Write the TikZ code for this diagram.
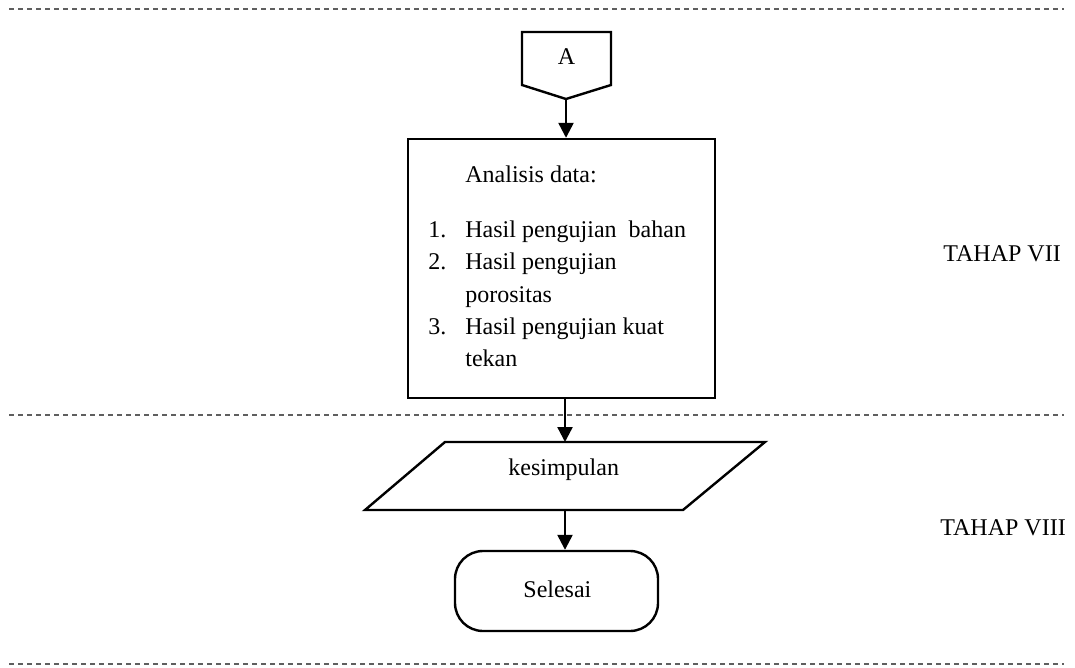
\documentclass[tikz,border=0pt]{standalone}
\usepackage{fontspec}
\setmainfont{Liberation Serif}
\usetikzlibrary{arrows.meta}
\definecolor{dashgray}{RGB}{95,95,95}
\begin{document}
\begin{tikzpicture}[x=0.5pt,y=-0.5pt,
  every node/.style={font=\fontsize{12pt}{14pt}\selectfont},
  txt/.style={inner sep=0pt,anchor=base west},
  shapeline/.style={draw=black,line width=1.2pt},
  flow/.style={draw=black,line width=1.2pt,-{Triangle[length=7.5pt,width=7.5pt]}},
  stage/.style={draw=dashgray,line width=0.8pt,dash pattern=on 2.5pt off 2pt}]
\useasboundingbox (0,0) rectangle (1075,668);
% stage separators
\draw[stage] (9,9) -- (1064,9);
\draw[stage] (9,415) -- (1064,415);
\draw[stage] (9,664) -- (1064,664);
% off-page connector A
\coordinate (Atl) at (522,32);
\coordinate (Atr) at (611,32);
\coordinate (Atip) at (566,99);
\draw[shapeline,line join=miter] (Atl) -- (Atr) -- (611,85) -- (Atip) -- (522,85) -- cycle;
\node[txt,anchor=base] (A) at (566.5,65) {A};
% analysis box
\node[shapeline,minimum width=153.5pt,minimum height=129.5pt,inner sep=0pt] (box) at (561.5,268.5) {};
\node[txt] (t0) at (465,183) {Analisis data:};
\node[txt] (n1) at (428,237) {1.};
\node[txt] (t1) at (465,237) {Hasil pengujian\ \ bahan};
\node[txt] (n2) at (428,270) {2.};
\node[txt] (t2) at (465,270) {Hasil pengujian};
\node[txt] (t2b) at (465,302) {porositas};
\node[txt] (n3) at (428,334) {3.};
\node[txt] (t3) at (465,334) {Hasil pengujian kuat};
\node[txt] (t3b) at (465,366) {tekan};
% parallelogram
\coordinate (Ptl) at (445,442);
\coordinate (Ptr) at (765,442);
\coordinate (Pbr) at (683,510);
\coordinate (Pbl) at (365,510);
\draw[shapeline,line join=miter] (Ptl) -- (Ptr) -- (Pbr) -- (Pbl) -- cycle;
\coordinate (Ptop) at (565,442);
\coordinate (Pbot) at (565,510);
\node[txt] (kes) at (508,475) {kesimpulan};
% terminal
\node[shapeline,rounded corners=14pt,minimum width=101.5pt,minimum height=40pt,inner sep=0pt] (end) at (556.5,591) {};
\node[txt] (sel) at (523,597) {Selesai};
% connectors
\draw[flow] (Atip) -- (Atip |- box.north);
\draw[flow] (box.south -| Ptop) -- (Ptop);
\draw[flow] (Pbot) -- (Pbot |- end.north);
% stage labels
\node[txt] (s7) at (943,262) {TAHAP VII};
\node[txt] (s8) at (940,535) {TAHAP VIII};
\end{tikzpicture}
\end{document}
